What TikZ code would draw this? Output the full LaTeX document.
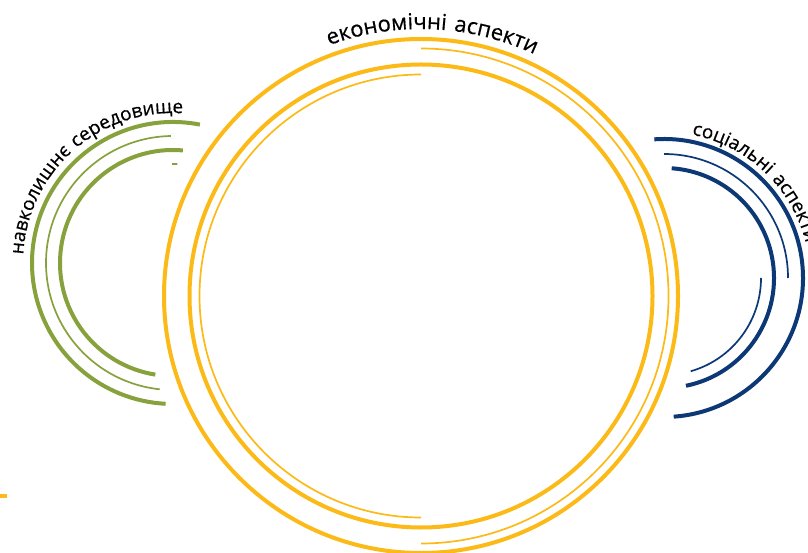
\documentclass[tikz,border=0pt]{standalone}
\usepackage{fontspec}
\newfontfamily\labfont[LetterSpace=8,FakeBold=0.5]{Open Sans}
\usetikzlibrary{decorations.text}
\definecolor{ylw}{RGB}{252,186,24}
\definecolor{grn}{RGB}{135,161,60}
\definecolor{blu}{RGB}{12,56,118}
\begin{document}
\begin{tikzpicture}[x=1pt,y=1pt,
  heavy/.style={line width=4pt},
  light/.style={line width=1.7pt},
  arclabel/.style 2 args={decorate, decoration={text along path, text align=center,
     text={|\labfont\fontsize{#1}{24}\selectfont|#2}}}]
\useasboundingbox (0,0) rectangle (808,552);
% economic (yellow)
\coordinate (yc) at (421,256);
\draw[ylw,heavy] (yc) circle[radius=257];
\draw[ylw,light] (yc) ++(90:247.5) arc[start angle=90,end angle=-90,radius=247.5];
\draw[ylw,heavy] (yc) circle[radius=231.5];
\draw[ylw,light] (yc) ++(90:221.5) arc[start angle=90,end angle=270,radius=221.5];
\path[arclabel={22}{економічні аспекти}] (yc) ++(127.5:267) arc[start angle=127.5,end angle=47.5,radius=267];
% environment (green)
\coordinate (gc) at (173,289);
\draw[grn,heavy] (gc) ++(79:141) arc[start angle=79,end angle=267,radius=141];
\draw[grn,light] (gc) ++(91:127) arc[start angle=91,end angle=264,radius=127];
\draw[grn,heavy] (gc) ++(85:113) arc[start angle=85,end angle=261,radius=113];
\draw[grn,light] (gc) ++(87.5:99) arc[start angle=87.5,end angle=90.5,radius=99];
\path[arclabel={19}{навколишнє середовище}] (gc) ++(200:150) arc[start angle=200,end angle=63,radius=150];
% social (blue)
\coordinate (bc) at (664,274);
\draw[blu,heavy] (bc) ++(-86:139) arc[start angle=-86,end angle=94,radius=139];
\draw[blu,light] (bc) ++(0:124) arc[start angle=0,end angle=90,radius=124];
\draw[blu,heavy] (bc) ++(-78.5:110) arc[start angle=-78.5,end angle=86,radius=110];
\draw[blu,light] (bc) ++(0:97) arc[start angle=0,end angle=-74,radius=97];
\path[decorate, decoration={text along path, text align=left,
   text={|\labfont\fontsize{19}{24}\selectfont|соціальні аспекти}}]
   (bc) ++(79:146) arc[start angle=79,end angle=-40,radius=146];
% small yellow mark
\coordinate (m1) at (0,56.5);
\coordinate (m2) at (7,56.5);
\draw[ylw,heavy] (m1) -- (m2);
\end{tikzpicture}
\end{document}
